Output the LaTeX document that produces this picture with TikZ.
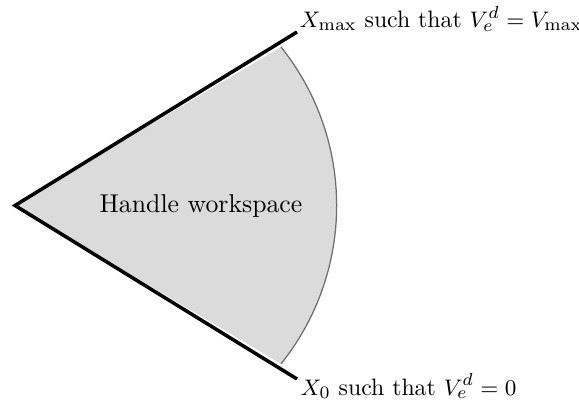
\documentclass[tikz,border=0pt]{standalone}
\begin{document}
\begin{tikzpicture}[x=0.4pt,y=-0.4pt,
  font=\fontsize{10.3}{12}\selectfont,
  edge/.style={line width=1.4pt, line cap=butt, line join=miter},
  region/.style={fill=black!14},
  rim/.style={draw=black!57, line width=0.5pt},
  lbl/.style={anchor=base west, inner sep=0pt, font=\fontsize{9.5}{11}\selectfont}]
\useasboundingbox (0,0) rectangle (579,406);
\coordinate (A) at (15,205.5);
\coordinate (U) at (297,32);
\coordinate (L) at (297,379);
\coordinate (P) at (281,47);
\coordinate (Q) at (281,364);
\fill[region] (A) -- (P) arc[start angle=-38.7, end angle=38.7, radius=253.4] -- cycle;
\draw[rim] (P) arc[start angle=-38.7, end angle=38.7, radius=253.4];
\draw[edge] (U) -- (A) -- (L);
\node (ws) at (201,206) {Handle workspace};
\node[lbl] (top) at (299,28) {$X_{\max}$ such that $V_e^d=V_{\max}$};
\node[lbl] (bot) at (300,395) {$X_0$ such that $V_e^d=0$};
\end{tikzpicture}
\end{document}
